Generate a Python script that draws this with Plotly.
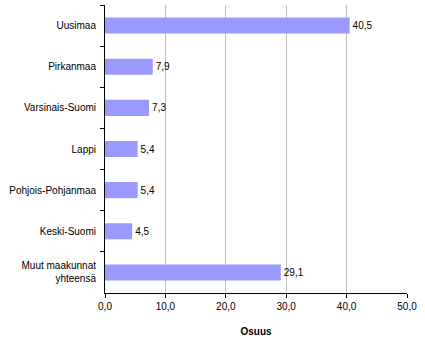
import plotly.graph_objects as go

regions = ["Uusimaa", "Pirkanmaa", "Varsinais-Suomi", "Lappi",
           "Pohjois-Pohjanmaa", "Keski-Suomi", "Muut maakunnat<br>yhteensä"]
shares = [40.5, 7.9, 7.3, 5.4, 5.4, 4.5, 29.1]
x_ticks = [0, 10, 20, 30, 40, 50]

labels = [f"{v:.1f}".replace(".", ",") for v in shares]
x_tick_text = [f"{v:.1f}".replace(".", ",") for v in x_ticks]

fig = go.Figure(go.Bar(
    x=shares, y=regions, orientation="h",
    marker=dict(color="#9999FF", line=dict(width=0)),
    text=labels, textposition="outside", cliponaxis=False,
    textfont=dict(size=10, color="black", family="Liberation Sans, Arial"),
))

fig.update_layout(
    width=425, height=358,
    margin=dict(l=105, r=18, t=5, b=65, autoexpand=False),
    plot_bgcolor="white", paper_bgcolor="white",
    separators=", ",
    bargap=0.61,
    showlegend=False,
    font=dict(family="Liberation Sans, Arial", size=10, color="black"),
)
fig.update_xaxes(
    range=[0, 50], tickvals=x_ticks, ticktext=x_tick_text,
    showgrid=True, gridcolor="#C0C0C0", gridwidth=1,
    showline=True, linecolor="black", linewidth=1,
    ticks="outside", ticklen=4, tickcolor="black",
    zeroline=False, automargin=False,
    title=dict(text="<b>Osuus</b>", standoff=16, font=dict(size=10)),
)
fig.update_yaxes(
    autorange="reversed", type="category",
    showline=True, linecolor="black", linewidth=1,
    ticks="outside", ticklen=4, tickcolor="black", tickson="boundaries",
    showgrid=False, ticklabelstandoff=6, automargin=False,
)
fig.write_html(
    "out.html",
    config={"displayModeBar": False},
    post_script="document.body.style.margin='0';document.body.style.padding='0';",
)
